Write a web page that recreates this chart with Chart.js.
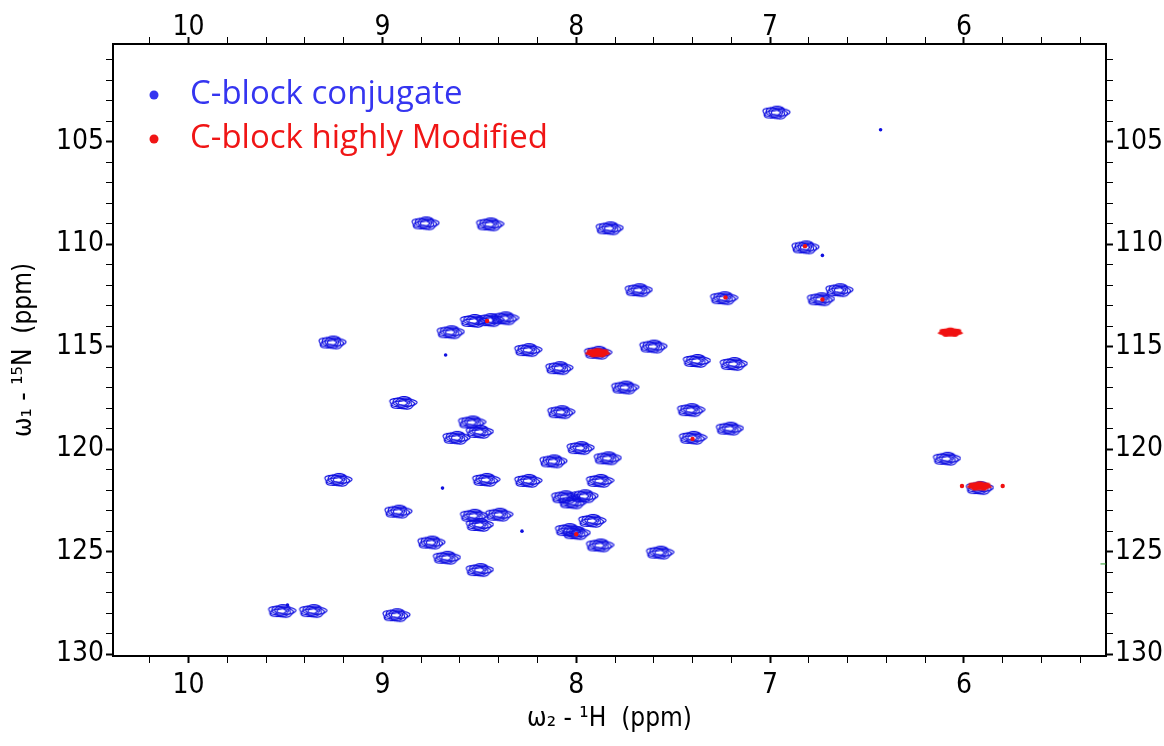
<!DOCTYPE html>
<html>
<head>
<meta charset="utf-8">
<script src="https://cdn.jsdelivr.net/npm/chart.js@4.4.1/dist/chart.umd.min.js"></script>
<style>
  html, body { margin: 0; padding: 0; background: #fff; }
  canvas { display: block; }
</style>
</head>
<body>
<canvas id="hsqc" width="1164" height="746"></canvas>
<script>
// axis ranges (ppm)
const H_MIN = 5.267, H_MAX = 10.39;
const N_MIN = 100.24, N_MAX = 130.09;

// C-block conjugate peaks (1H, 15N)
const conjH = [6.97, 8.78, 8.447, 7.83, 6.82, 6.645, 6.74, 7.68, 7.24,
  8.447, 8.53, 8.37, 8.65, 9.26, 8.25, 7.89, 7.605, 7.38, 7.19, 8.09,
  7.75, 8.895, 8.08, 7.41, 8.54, 8.50, 8.62, 7.21, 7.40, 7.98, 8.12,
  7.84, 6.09, 9.23, 8.467, 8.25, 7.88, 8.06, 7.96, 8.02, 8.92, 8.53,
  8.40, 8.50, 7.92, 8.00, 8.04, 8.75, 7.88, 7.57, 8.67, 8.50, 9.52,
  9.36, 8.93, 5.92];
const conjN = [103.59, 108.99, 109.04, 109.23, 110.16, 112.25, 112.69, 112.25, 112.64,
  113.71, 113.75, 113.62, 114.3, 114.8, 115.17, 115.3, 115.0, 115.7, 115.85, 116.05,
  117.0, 117.75, 118.2, 118.1, 118.7, 119.16, 119.45, 119.0, 119.45, 119.95, 120.6,
  120.45, 120.47, 121.5, 121.5, 121.55, 121.55, 122.35, 122.3, 122.6, 123.05, 123.25,
  123.2, 123.7, 123.5, 124.1, 123.95, 124.56, 124.7, 125.05, 125.3, 125.9, 127.9,
  127.9, 128.1, 121.9];

// weak conjugate signals
const conjWeakH = [6.43, 6.73, 8.674, 8.69, 8.28, 9.49];
const conjWeakN = [104.42, 110.55, 115.41, 121.9, 124.0, 127.6];

// C-block highly modified peaks
const modH = [6.07, 5.92, 7.89];
const modN = [114.3, 121.8, 115.3];
const modWeakH = [8.46, 7.23, 6.73, 6.82, 7.40, 8.00, 6.01, 5.80];
const modWeakN = [113.75, 112.6, 112.7, 110.1, 119.5, 124.15, 121.8, 121.8];

// stray edge signal
const otherH = [5.28];
const otherN = [125.6];

const labels = ['C-block conjugate', 'C-block highly Modified'];

function pts(xs, ys) {
  return xs.map((x, i) => ({ x: x, y: ys[i] }));
}

// contour-like marker drawn once, reused as pointStyle
function contourMarker(color, w, h, rings) {
  const c = document.createElement('canvas');
  c.width = w + 4; c.height = h + 4;
  const g = c.getContext('2d');
  g.strokeStyle = color;
  g.lineWidth = 1.2;
  for (let i = 1; i <= rings; i++) {
    const f = 0.2 + 0.8 * i / rings;
    g.beginPath();
    for (let a = 0; a <= 72; a++) {
      const t = a / 72 * Math.PI * 2;
      const wob = 1 + 0.08 * Math.sin(5 * t + i * 1.7);
      const x = c.width / 2 + Math.cos(t) * (w / 2) * f * wob;
      const y = c.height / 2 + Math.sin(t) * (h / 2) * f * wob;
      if (a === 0) g.moveTo(x, y); else g.lineTo(x, y);
    }
    g.stroke();
  }
  return c;
}

function blobMarker(color, w, h) {
  const c = document.createElement('canvas');
  c.width = w + 4; c.height = h + 4;
  const g = c.getContext('2d');
  g.fillStyle = color;
  g.beginPath();
  for (let a = 0; a <= 72; a++) {
    const t = a / 72 * Math.PI * 2;
    const wob = 1 + 0.08 * Math.sin(7 * t);
    const x = c.width / 2 + Math.cos(t) * (w / 2) * wob;
    const y = c.height / 2 + Math.sin(t) * (h / 2) * wob;
    if (a === 0) g.moveTo(x, y); else g.lineTo(x, y);
  }
  g.fill();
  return c;
}

const BLUE = '#1010e0';
const RED = '#f01010';

const tickFont = { family: "'Liberation Sans Narrow', 'DejaVu Sans Condensed', 'Liberation Sans', sans-serif", size: 28 };
const titleFont = { family: "'Liberation Sans Narrow', 'DejaVu Sans Condensed', 'Liberation Sans', sans-serif", size: 26 };

const isWhole = (v, step) => Math.abs(v / step - Math.round(v / step)) < 1e-6;

function hAxis(pos, size, showTitle) {
  return {
    type: 'linear', position: pos, reverse: true, min: H_MIN, max: H_MAX,
    afterFit: s => { s.height = size; },
    border: { display: true, color: '#000', width: 2 },
    grid: {
      drawOnChartArea: false, drawTicks: true, tickLength: 7, tickColor: '#000',
      tickWidth: ctx => isWhole(ctx.tick.value, 1) ? 2 : 1
    },
    ticks: {
      stepSize: 0.2, includeBounds: false, autoSkip: false, maxRotation: 0,
      color: '#000', font: tickFont, padding: pos === 'top' ? -8 : 6,
      callback: v => isWhole(v, 1) ? String(Math.round(v)) : ''
    },
    title: { display: showTitle, text: 'ω\u2082 - \u00B9H  (ppm)', color: '#000', font: titleFont, padding: { top: 0, bottom: 11 } }
  };
}

function nAxis(pos, size, showTitle) {
  return {
    type: 'linear', position: pos, reverse: true, min: N_MIN, max: N_MAX,
    afterFit: s => { s.width = size; },
    border: { display: true, color: '#000', width: 2 },
    grid: {
      drawOnChartArea: false, drawTicks: true, tickLength: 7, tickColor: '#000',
      tickWidth: ctx => isWhole(ctx.tick.value, 5) ? 2 : 1
    },
    ticks: {
      stepSize: 1, includeBounds: false, autoSkip: false,
      color: '#000', font: tickFont, padding: 2,
      callback: v => isWhole(v, 5) ? String(Math.round(v)) : ''
    },
    title: { display: showTitle, text: 'ω\u2081 - \u00B9\u2075N  (ppm)', color: '#000', font: titleFont, padding: { top: 9, bottom: 0 } }
  };
}

// legend written inside the plot, like the original figure
const innerLegend = {
  id: 'innerLegend',
  afterDraw(chart) {
    const ctx = chart.ctx;
    const a = chart.chartArea;
    const items = [[labels[0], '#3535f0'], [labels[1], '#f01515']];
    ctx.save();
    ctx.font = "33px 'Open Sans', sans-serif";
    ctx.textBaseline = 'middle';
    items.forEach((it, i) => {
      const y = a.top + 51 + i * 44;
      ctx.fillStyle = it[1];
      ctx.beginPath();
      ctx.arc(a.left + 41, y, 4.5, 0, Math.PI * 2);
      ctx.fill();
      ctx.fillText(it[0], a.left + 77, y);
    });
    ctx.restore();
  }
};

const ctx = document.getElementById('hsqc').getContext('2d');
new Chart(ctx, {
  type: 'scatter',
  data: {
    datasets: [
      { label: labels[0], order: 3, data: pts(conjH, conjN), pointStyle: contourMarker(BLUE, 26, 12, 5), xAxisID: 'x', yAxisID: 'y' },
      { label: labels[0], order: 3, data: pts(conjWeakH, conjWeakN), pointRadius: 1.8, backgroundColor: BLUE, borderWidth: 0, xAxisID: 'x', yAxisID: 'y' },
      { label: labels[1], order: 1, data: pts(modH, modN), pointStyle: blobMarker(RED, 24, 9), xAxisID: 'x', yAxisID: 'y' },
      { label: labels[1], order: 1, data: pts(modWeakH, modWeakN), pointRadius: 2.2, backgroundColor: RED, borderWidth: 0, xAxisID: 'x', yAxisID: 'y' },
      { label: '', order: 2, data: pts(otherH, otherN), pointStyle: 'line', pointRadius: 3, borderColor: '#2a9a2a', borderWidth: 1, xAxisID: 'x', yAxisID: 'y' }
    ]
  },
  options: {
    responsive: false,
    animation: false,
    events: [],
    layout: { padding: 0 },
    plugins: { legend: { display: false }, tooltip: { enabled: false } },
    scales: {
      x: hAxis('bottom', 90, true),
      x2: hAxis('top', 44, false),
      y: nAxis('left', 113, true),
      y2: nAxis('right', 58, false)
    }
  },
  plugins: [innerLegend]
});
</script>
</body>
</html>
